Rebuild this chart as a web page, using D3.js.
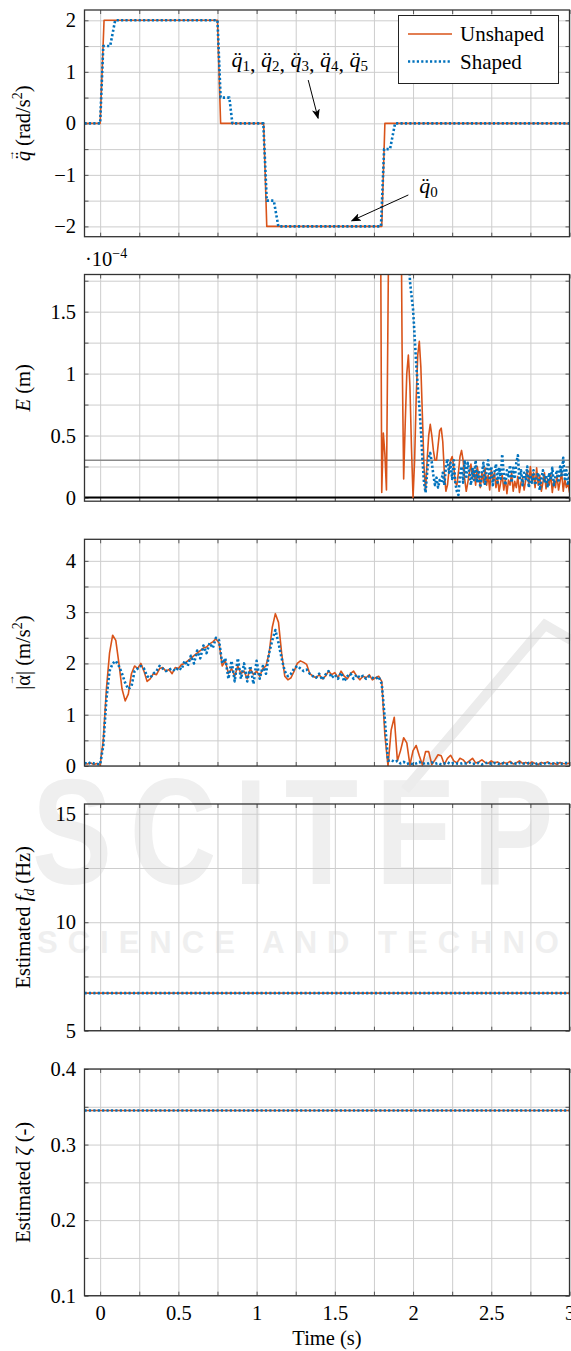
<!DOCTYPE html>
<html>
<head>
<meta charset="utf-8">
<script src="https://cdnjs.cloudflare.com/ajax/libs/d3/7.8.5/d3.min.js"></script>
<style>
  html, body { margin: 0; padding: 0; background: #fff; }
  svg { display: block; }
  svg text { font-family: 'Liberation Serif', 'Times New Roman', serif; }
  svg text.wm { font-family: 'Liberation Sans', Arial, sans-serif; font-weight: bold; }
</style>
</head>
<body>
<div id="chart"></div>
<script>
// ── Data ────────────────────────────────────────────────────────────────────

// time axis (s)
const xGridValues = [0, 0.25, 0.5, 0.75, 1, 1.25, 1.5, 1.75, 2, 2.25, 2.5, 2.75, 3];
const xTickLabels = [0, 0.5, 1, 1.5, 2, 2.5, 3];

// panel 1: commanded joint acceleration (rad/s^2)
const qTimeUnshaped = [-0.1, 0.0, 0.025, 0.75, 0.77, 1.045, 1.065, 1.80, 1.82, 3.0];
const qUnshaped     = [0, 0, 2, 2, 0, 0, -2, -2, 0, 0];
const qTimeShaped   = [-0.1, 0.0, 0.02, 0.064, 0.096, 0.75, 0.77, 0.826, 0.845,
                       1.043, 1.065, 1.11, 1.139, 1.795, 1.815, 1.853, 1.885, 3.0];
const qShaped       = [0, 0, 1.5, 1.5, 2, 2, 0.5, 0.5, 0, 0, -1.5, -1.5, -2, -2, -0.5, -0.5, 0, 0];
const qTicks = [-2, -1, 0, 1, 2];
const qGrid = [-2, -1.5, -1, -0.5, 0, 0.5, 1, 1.5, 2];

// panel 2: residual error E (x 1e-4 m), sampled every 0.01 s
const eStartUnshaped = 1.79;
const eUnshaped = [
  3, 0.04, 0.52, 0.35, 0.06, 1.5, 3, 3, 3, 3,
  3, 3, 3, 3, 1.2, 0.15, 0.6, 1.0, 1.15, 0.9,
  0.4, 0.0, 0.3, 0.8, 1.15, 1.26, 1.05, 0.65, 0.25, 0.05,
  0.3, 0.5, 0.59, 0.5, 0.38, 0.3, 0.3, 0.42, 0.54, 0.56,
  0.45, 0.2, 0.05, 0.1, 0.22, 0.3, 0.33, 0.25, 0.12, 0.1,
  0.2, 0.33, 0.38, 0.3, 0.15, 0.05, 0.12, 0.2, 0.27, 0.15,
  0.22, 0.1, 0.25, 0.18, 0.08, 0.2, 0.12, 0.24, 0.1, 0.18,
  0.06, 0.22, 0.14, 0.2, 0.08, 0.16, 0.05, 0.12, 0.18, 0.06,
  0.15, 0.03, 0.14, 0.1, 0.2, 0.05, 0.13, 0.08, 0.17, 0.04,
  0.12, 0.16, 0.06, 0.14, 0.22, 0.1, 0.25, 0.12, 0.2, 0.08,
  0.24, 0.1, 0.18, 0.05, 0.12, 0.2, 0.07, 0.15, 0.1, 0.19,
  0.04, 0.14, 0.08, 0.18, 0.06, 0.13, 0.2, 0.05, 0.15, 0.08,
  0.12, 0.04
];
const eStartShaped = 1.97;
const eShaped = [
  2.2, 1.75, 1.63, 1.52, 1.3, 1.08, 0.9, 0.74, 0.55, 0.31,
  0.12, 0.04, 0.2, 0.32, 0.36, 0.28, 0.18, 0.1, 0.16, 0.08,
  0.14, 0.12, 0.2, 0.1, 0.25, 0.31, 0.2, 0.28, 0.15, 0.3,
  0.12, 0.05, 0.02, 0.18, 0.25, 0.12, 0.3, 0.15, 0.28, 0.2,
  0.1, 0.24, 0.14, 0.3, 0.12, 0.22, 0.08, 0.2, 0.28, 0.1,
  0.22, 0.3, 0.14, 0.25, 0.1, 0.2, 0.27, 0.12, 0.24, 0.15,
  0.35, 0.18, 0.1, 0.22, 0.16, 0.26, 0.12, 0.24, 0.15, 0.28,
  0.34, 0.14, 0.22, 0.1, 0.2, 0.14, 0.25, 0.08, 0.18, 0.12,
  0.22, 0.1, 0.16, 0.2, 0.06, 0.15, 0.22, 0.12, 0.18, 0.08,
  0.2, 0.14, 0.24, 0.1, 0.17, 0.22, 0.12, 0.25, 0.18, 0.32,
  0.15, 0.22, 0.1, 0.2
];
const eStep = 0.01;
const eThreshold = 0.3;
const eTicks = [0, 0.5, 1, 1.5];
const eGrid = [0, 0.25, 0.5, 0.75, 1, 1.25, 1.5, 1.75];

// panel 3: |alpha| (m/s^2), sampled every 0.02 s from -0.1 s
const accStart = -0.1;
const accStep = 0.02;
const accUnshaped = [
  0.05, 0.04, 0.06, 0.03, 0.05, 0.02, 0.5, 1.5, 2.2, 2.55,
  2.45, 2.0, 1.5, 1.27, 1.4, 1.8, 1.95, 1.9, 2.0, 1.85,
  1.65, 1.7, 1.8, 1.78, 1.9, 1.92, 1.85, 1.88, 1.8, 1.92,
  1.9, 1.98, 2.0, 2.05, 2.1, 2.15, 2.2, 2.25, 2.3, 2.32,
  2.38, 2.42, 2.48, 2.4, 1.95, 2.05, 1.8, 1.9, 1.75, 1.95,
  1.8, 1.85, 1.7, 1.9, 1.78, 1.85, 1.75, 1.9, 1.95, 2.2,
  2.7, 2.97, 2.8, 2.2, 1.75, 1.68, 1.72, 1.85, 2.0, 2.05,
  2.02, 1.98, 1.8, 1.75, 1.72, 1.78, 1.7, 1.75, 1.85, 1.78,
  1.82, 1.72, 1.85, 1.75, 1.7, 1.8, 1.85, 1.75, 1.68, 1.75,
  1.72, 1.78, 1.68, 1.72, 1.75, 1.65, 0.6, 0.0, 0.7, 0.95,
  0.1, 0.3, 0.55, 0.45, 0.02, 0.3, 0.4, 0.2, 0.02, 0.28,
  0.28, 0.03, 0.12, 0.22, 0.2, 0.03, 0.15, 0.21, 0.1, 0.06,
  0.15, 0.12, 0.05, 0.1, 0.15, 0.06, 0.08, 0.12, 0.07, 0.05,
  0.1, 0.06, 0.08, 0.04, 0.07, 0.05, 0.09, 0.04, 0.06, 0.1,
  0.05, 0.07, 0.04, 0.08, 0.05, 0.03, 0.07, 0.05, 0.08, 0.04,
  0.06, 0.03, 0.07, 0.05, 0.04, 0.06
];
const accShaped = [
  0.06, 0.04, 0.07, 0.05, 0.04, 0.03, 0.4, 1.3, 1.85, 2.0,
  2.05, 1.95, 1.8, 1.62, 1.5, 1.55, 1.85, 1.9, 1.95, 1.9,
  1.75, 1.72, 1.8, 1.85, 1.95, 1.9, 1.85, 1.88, 1.9, 1.85,
  1.92, 1.88, 2.05, 1.95, 2.15, 2.0, 2.25, 2.1, 2.35, 2.2,
  2.4, 2.3, 2.5, 2.45, 2.0, 2.1, 1.7, 2.05, 1.65, 2.1,
  1.7, 2.0, 1.65, 1.95, 1.6, 2.05, 1.7, 1.95, 1.8, 2.2,
  2.45, 2.65, 2.4, 2.1, 1.85, 1.75, 1.8, 1.9, 1.95, 1.9,
  1.85, 1.88, 1.8, 1.75, 1.72, 1.8, 1.68, 1.78, 1.85, 1.72,
  1.78, 1.7, 1.82, 1.65, 1.75, 1.8, 1.7, 1.78, 1.72, 1.76,
  1.7, 1.75, 1.72, 1.7, 1.74, 1.6, 0.9, 0.1, 0.12, 0.08,
  0.1, 0.05, 0.08, 0.04, 0.06, 0.03, 0.05, 0.08, 0.04, 0.06,
  0.05, 0.07, 0.04, 0.06, 0.03, 0.05, 0.07, 0.04, 0.06, 0.05,
  0.04, 0.06, 0.05, 0.07, 0.04, 0.05, 0.06, 0.03, 0.05, 0.07,
  0.04, 0.06, 0.05, 0.03, 0.06, 0.04, 0.05, 0.07, 0.04, 0.06,
  0.05, 0.04, 0.06, 0.05, 0.03, 0.06, 0.04, 0.05, 0.07, 0.04,
  0.05, 0.06, 0.04, 0.05, 0.06, 0.04
];
const accTicks = [0, 1, 2, 3, 4];
const accGrid = [0, 0.5, 1, 1.5, 2, 2.5, 3, 3.5, 4];

// panel 4: estimated damped frequency (Hz)
const estTime = [-0.1, 3.0];
const fdUnshaped = [6.73, 6.73];
const fdShaped = [6.73, 6.73];
const fdTicks = [5, 10, 15];
const fdGrid = [5, 7.5, 10, 12.5, 15];

// panel 5: estimated damping ratio (-)
const zetaUnshaped = [0.345, 0.345];
const zetaShaped = [0.345, 0.345];
const zetaTicks = [0.1, 0.2, 0.3, 0.4];
const zetaGrid = [0.1, 0.15, 0.2, 0.25, 0.3, 0.35, 0.4];

// ── Layout / style ──────────────────────────────────────────────────────────

const W = 571, H = 1351;
const PLOT_LEFT = 84.5, PLOT_RIGHT = 569.5;
const PANEL_H = 226.7;
const ORANGE = '#D95319';
const BLUE = '#0072BD';
const GRID = '#cdcdcd';
const SERIF = "'Liberation Serif', 'Times New Roman', serif";
const FS = 20.5;
const TICK = 4;

const svg = d3.select('#chart').append('svg')
    .attr('width', W)
    .attr('height', H);

const x = d3.scaleLinear().domain([-0.1, 3]).range([PLOT_LEFT, PLOT_RIGHT]);
const iW = PLOT_RIGHT - PLOT_LEFT;

const fmt = d => (d < 0 ? '\u2212' : '') + Math.abs(d);
const zipT = (start, step, vals) => vals.map((v, i) => [start + step * i, v]);

// ── Watermark (faint, behind the plots) ─────────────────────────────────────

const wm = svg.append('g').attr('fill', '#efefef');
wm.append('text')
    .attr('class', 'wm')
    .attr('transform', 'translate(32,884) scale(0.8,1)')
    .attr('font-size', 150)
    .attr('letter-spacing', 22)
    .text('SCITEPRESS');
wm.append('text')
    .attr('class', 'wm')
    .attr('x', 37).attr('y', 953)
    .attr('font-size', 31)
    .attr('letter-spacing', 10)
    .text('SCIENCE AND TECHNOLOGY PUBLICATIONS');
wm.append('polyline')
    .attr('points', '405,790 545,625 571,640')
    .attr('fill', 'none')
    .attr('stroke', '#ececec')
    .attr('stroke-width', 10);

// ── Markers ─────────────────────────────────────────────────────────────────

svg.append('defs').append('marker')
    .attr('id', 'arrowhead')
    .attr('viewBox', '0 0 10 8')
    .attr('refX', 9).attr('refY', 4)
    .attr('markerWidth', 10).attr('markerHeight', 8)
    .attr('markerUnits', 'userSpaceOnUse')
    .attr('orient', 'auto')
    .append('path')
    .attr('d', 'M0,0 L10,4 L0,8 L2.5,4 z')
    .attr('fill', '#000');

// ── Panel helper ────────────────────────────────────────────────────────────

function styleTicks(sel, color) {
    sel.select('.domain').remove();
    sel.selectAll('.tick line').attr('stroke', color).attr('stroke-width', 1);
}

function styleLabels(sel) {
    sel.attr('font-family', null).attr('font-size', null);
    sel.select('.domain').remove();
    sel.selectAll('text')
        .style('font-family', SERIF)
        .style('font-size', FS + 'px')
        .attr('fill', '#000');
}

function drawPanel(cfg) {
    const top = cfg.top;
    const bottom = top + PANEL_H;
    const y = d3.scaleLinear().domain(cfg.domain).range([bottom, top]);
    const g = svg.append('g');

    svg.select('defs').append('clipPath').attr('id', 'clip-' + cfg.key)
        .append('rect')
        .attr('x', PLOT_LEFT).attr('y', top)
        .attr('width', iW).attr('height', PANEL_H);

    // grid
    g.append('g').attr('transform', `translate(${PLOT_LEFT},0)`)
        .call(d3.axisLeft(y).tickValues(cfg.grid).tickSize(-iW).tickFormat(''))
        .call(s => styleTicks(s, GRID));
    g.append('g').attr('transform', `translate(0,${bottom})`)
        .call(d3.axisBottom(x).tickValues(xGridValues).tickSize(-PANEL_H).tickFormat(''))
        .call(s => styleTicks(s, GRID));

    // inner tick marks on all four sides
    g.append('g').attr('transform', `translate(${PLOT_LEFT},0)`)
        .call(d3.axisLeft(y).tickValues(cfg.grid).tickSize(-TICK).tickFormat(''))
        .call(s => styleTicks(s, '#555'));
    g.append('g').attr('transform', `translate(${PLOT_RIGHT},0)`)
        .call(d3.axisRight(y).tickValues(cfg.grid).tickSize(-TICK).tickFormat(''))
        .call(s => styleTicks(s, '#555'));
    g.append('g').attr('transform', `translate(0,${bottom})`)
        .call(d3.axisBottom(x).tickValues(xGridValues).tickSize(-TICK).tickFormat(''))
        .call(s => styleTicks(s, '#555'));
    g.append('g').attr('transform', `translate(0,${top})`)
        .call(d3.axisTop(x).tickValues(xGridValues).tickSize(-TICK).tickFormat(''))
        .call(s => styleTicks(s, '#555'));

    const plot = g.append('g').attr('clip-path', `url(#clip-${cfg.key})`);
    if (cfg.refLines) cfg.refLines(plot, y);

    const line = d3.line().x(d => x(d[0])).y(d => y(d[1]));
    cfg.series.forEach(s => {
        const p = plot.append('path')
            .datum(s.data)
            .attr('fill', 'none')
            .attr('stroke', s.shaped ? BLUE : ORANGE)
            .attr('stroke-width', s.shaped ? 2.6 : 1.6)
            .attr('stroke-linejoin', 'round')
            .attr('d', line);
        if (s.shaped) p.attr('stroke-dasharray', '2.2,2.2');
    });

    // frame
    g.append('rect')
        .attr('x', PLOT_LEFT).attr('y', top)
        .attr('width', iW).attr('height', PANEL_H)
        .attr('fill', 'none')
        .attr('stroke', '#333')
        .attr('stroke-width', 1.3);

    // y tick labels
    g.append('g').attr('transform', `translate(${PLOT_LEFT},0)`)
        .call(d3.axisLeft(y).tickValues(cfg.ticks).tickSize(0).tickPadding(8.5).tickFormat(fmt))
        .call(styleLabels);

    yLabel(top + PANEL_H / 2, cfg.label);
    return { g, y };
}

// rotated y label built from parts: [text, style]; 'i' italic, 'sup', 'sub', 'vec'/'vec-up' (with arrow)
function yLabel(cy, parts) {
    const grp = svg.append('g').attr('transform', `translate(29.5,${cy}) rotate(-90)`);
    const t = grp.append('text').attr('font-size', FS).attr('fill', '#000');
    let shift = 0;
    const vecAt = [];
    parts.forEach(([str, style]) => {
        const sp = t.append('tspan').text(str);
        let dy = 0;
        if (style === 'sup') { sp.attr('font-size', 14); dy = -8; }
        if (style === 'sub') { sp.attr('font-size', 14); sp.attr('font-style', 'italic'); dy = 4; }
        if (style === 'i' || style === 'vec') sp.attr('font-style', 'italic');
        sp.attr('dy', dy - shift);
        shift = dy;
        if (style === 'vec' || style === 'vec-up') vecAt.push(sp);
    });
    const total = t.node().getComputedTextLength();
    t.attr('x', -total / 2);
    vecAt.forEach(sp => {
        const start = sp.node().getStartPositionOfChar(0).x;
        grp.append('text')
            .attr('x', start + 0.5)
            .attr('y', -16)
            .attr('font-size', 11)
            .attr('fill', '#000')
            .text('\u2192');
    });
}

// ── Panels ──────────────────────────────────────────────────────────────────

const p1 = drawPanel({
    key: 'q', top: 10, domain: [-2.2, 2.2], grid: qGrid, ticks: qTicks,
    label: [['q\u0308', 'vec'], [' (rad/s', ''], ['2', 'sup'], [')', '']],
    series: [
        { data: d3.zip(qTimeUnshaped, qUnshaped), shaped: false },
        { data: d3.zip(qTimeShaped, qShaped), shaped: true }
    ]
});

drawPanel({
    key: 'e', top: 274.5, domain: [-0.03, 1.8], grid: eGrid, ticks: eTicks,
    label: [['E', 'i'], [' (m)', '']],
    refLines: (plot, y) => {
        plot.append('line')
            .attr('x1', PLOT_LEFT).attr('x2', PLOT_RIGHT)
            .attr('y1', y(eThreshold)).attr('y2', y(eThreshold))
            .attr('stroke', '#8a8a8a').attr('stroke-width', 1.6);
        plot.append('line')
            .attr('x1', PLOT_LEFT).attr('x2', PLOT_RIGHT)
            .attr('y1', y(0)).attr('y2', y(0))
            .attr('stroke', '#000').attr('stroke-width', 2.2);
    },
    series: [
        { data: zipT(eStartUnshaped, eStep, eUnshaped), shaped: false },
        { data: zipT(eStartShaped, eStep, eShaped), shaped: true }
    ]
});

// exponent marker above panel 2
const expo = svg.append('text').attr('x', 85).attr('y', 266).attr('font-size', FS);
expo.append('tspan').text('\u00B710');
expo.append('tspan').attr('font-size', 14).attr('dy', -8).text('\u22124');

drawPanel({
    key: 'a', top: 539.3, domain: [0, 4.42], grid: accGrid, ticks: accTicks,
    label: [['|', ''], ['\u03B1', 'vec-up'], ['| (m/s', ''], ['2', 'sup'], [')', '']],
    series: [
        { data: zipT(accStart, accStep, accUnshaped), shaped: false },
        { data: zipT(accStart, accStep, accShaped), shaped: true }
    ]
});

drawPanel({
    key: 'f', top: 804, domain: [5, 15.45], grid: fdGrid, ticks: fdTicks,
    label: [['Estimated ', ''], ['f', 'i'], ['d', 'sub'], [' (Hz)', '']],
    series: [
        { data: d3.zip(estTime, fdUnshaped), shaped: false },
        { data: d3.zip(estTime, fdShaped), shaped: true }
    ]
});

drawPanel({
    key: 'z', top: 1069, domain: [0.1, 0.4], grid: zetaGrid, ticks: zetaTicks,
    label: [['Estimated ', ''], ['\u03B6', 'i'], [' (-)', '']],
    series: [
        { data: d3.zip(estTime, zetaUnshaped), shaped: false },
        { data: d3.zip(estTime, zetaShaped), shaped: true }
    ]
});

// x axis labels (bottom panel only)
svg.append('g').attr('transform', `translate(0,${1069 + PANEL_H})`)
    .call(d3.axisBottom(x).tickValues(xTickLabels).tickSize(0).tickPadding(10).tickFormat(fmt))
    .call(styleLabels);
svg.append('text')
    .attr('x', (PLOT_LEFT + PLOT_RIGHT) / 2)
    .attr('y', 1345)
    .attr('text-anchor', 'middle')
    .attr('font-size', FS)
    .text('Time (s)');

// ── Panel 1 annotations and legend ──────────────────────────────────────────

const y1 = p1.y;
const annArrows = [
    { from: [1.33, 0.84], to: [1.393, 0.1] },
    { from: [1.97, -1.39], to: [1.608, -1.89] }
];
annArrows.forEach(a => {
    svg.append('line')
        .attr('x1', x(a.from[0])).attr('y1', y1(a.from[1]))
        .attr('x2', x(a.to[0])).attr('y2', y1(a.to[1]))
        .attr('stroke', '#000').attr('stroke-width', 1)
        .attr('marker-end', 'url(#arrowhead)');
});

const ann1 = svg.append('text').attr('x', x(0.84)).attr('y', y1(1.1)).attr('font-size', 22);
[1, 2, 3, 4, 5].forEach((k, i) => {
    ann1.append('tspan').attr('font-style', 'italic').attr('dy', i === 0 ? 0 : -4).text('q\u0308');
    ann1.append('tspan').attr('font-size', 15).attr('dy', 4).text(k);
    if (i < 4) ann1.append('tspan').attr('dy', 0).text(', ');
});
const ann0 = svg.append('text').attr('x', x(2.04)).attr('y', y1(-1.35)).attr('font-size', 22);
ann0.append('tspan').attr('font-style', 'italic').text('q\u0308');
ann0.append('tspan').attr('font-size', 15).attr('dy', 4).text('0');

const legendItems = [
    { name: 'Unshaped', shaped: false },
    { name: 'Shaped', shaped: true }
];
const leg = svg.append('g');
leg.append('rect')
    .attr('x', 398.5).attr('y', 15.5)
    .attr('width', 160).attr('height', 68)
    .attr('fill', '#fff').attr('stroke', '#222').attr('stroke-width', 1);
legendItems.forEach((d, i) => {
    const ly = 34 + i * 27.5;
    const ln = leg.append('line')
        .attr('x1', 408).attr('x2', 452)
        .attr('y1', ly).attr('y2', ly)
        .attr('stroke', d.shaped ? BLUE : ORANGE)
        .attr('stroke-width', d.shaped ? 2.6 : 1.6);
    if (d.shaped) ln.attr('stroke-dasharray', '2.2,2.2');
    leg.append('text')
        .attr('x', 460).attr('y', ly)
        .attr('dy', '0.35em')
        .attr('font-size', 21)
        .text(d.name);
});
</script>
</body>
</html>
